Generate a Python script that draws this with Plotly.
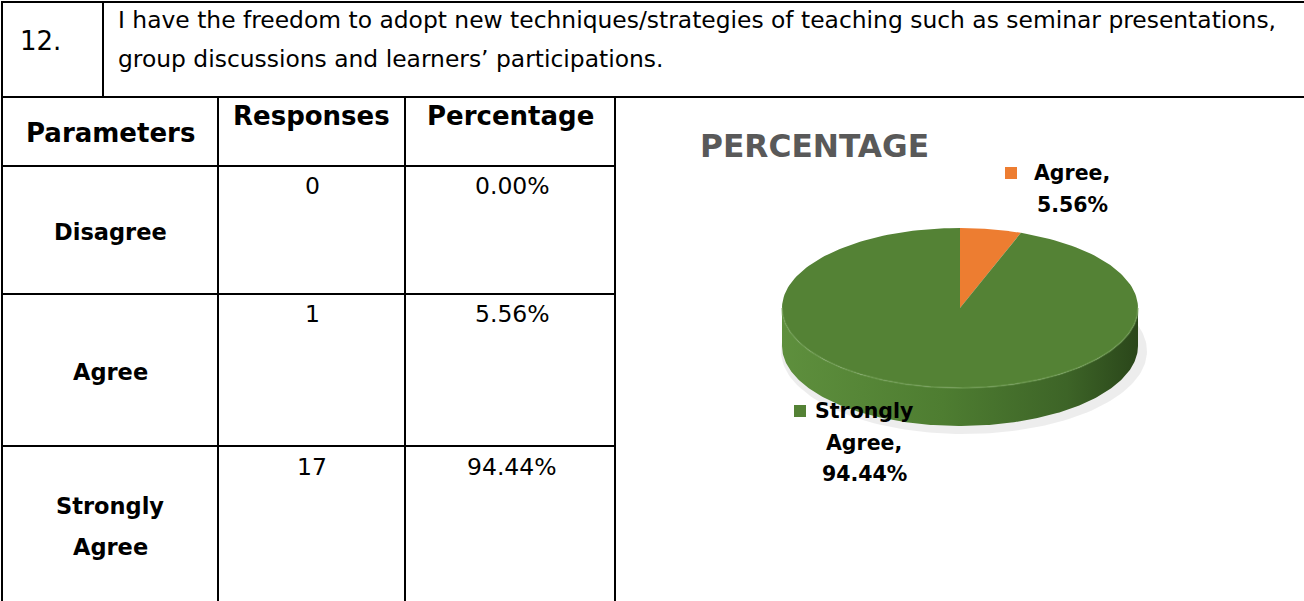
import numpy as np
import plotly.graph_objects as go

# ---------------- data ----------------
item_number = "12."
question_lines = [
    "I have the freedom to adopt new techniques/strategies of teaching such as seminar presentations,",
    "group discussions and learners\u2019 participations.",
]
headers = ["Parameters", "Responses", "Percentage"]
parameters = ["Disagree", "Agree", "Strongly Agree"]
responses = [0, 1, 17]
percentages = [0.00, 5.56, 94.44]
chart_title = "PERCENTAGE"
slice_colors = {"Disagree": "#4472C4", "Agree": "#ED7D31", "Strongly Agree": "#548235"}

# ---------------- layout geometry (pixels) ----------------
W, H = 1304, 601
LINE = "#000000"
LW = 2
x_left, x_num, x_c1, x_c2, x_c3 = 2, 103, 218, 405, 615
y_top, y_hdr, y_r1, y_r2, y_r3 = 2, 97, 166, 294, 446
row_label_y = {"Disagree": [232], "Agree": [372], "Strongly Agree": [506, 547]}
row_value_y = [186, 314, 467]

fig = go.Figure()

shapes = []
def hline(y, x0, x1):
    shapes.append(dict(type="line", xref="x", yref="y", x0=x0, x1=x1, y0=y, y1=y,
                       line=dict(color=LINE, width=LW)))
def vline(x, y0, y1):
    shapes.append(dict(type="line", xref="x", yref="y", x0=x, x1=x, y0=y0, y1=y1,
                       line=dict(color=LINE, width=LW)))

hline(y_top, x_left - 1, W)
hline(y_hdr, x_left - 1, W)
vline(x_left, y_top - 1, H)
vline(x_num, y_top, y_hdr)
for x in (x_c1, x_c2, x_c3):
    vline(x, y_hdr, H)
for y in (y_r1, y_r2, y_r3):
    hline(y, x_left, x_c3)

ann = []
REG = "DejaVu Sans"
def text(x, y, s, size, bold=False, color="#000000", xanchor="center", family=REG):
    ann.append(dict(x=x, y=y, xref="x", yref="y", text=f"<b>{s}</b>" if bold else s,
                    showarrow=False, xanchor=xanchor, yanchor="middle",
                    font=dict(family=family, size=size, color=color)))

text(40, 41, item_number, 26)
text(116, 20, question_lines[0], 23.4, xanchor="left")
text(116, 59, question_lines[1], 23.4, xanchor="left")

text((x_left + x_c1) / 2, 133, headers[0], 26, bold=True)
text((x_c1 + x_c2) / 2, 116, headers[1], 26, bold=True)
text((x_c2 + x_c3) / 2, 116, headers[2], 26, bold=True)

for i, p in enumerate(parameters):
    words = p.split(" ")
    for w, yy in zip(words, row_label_y[p]):
        text(110, yy, w, 22.5, bold=True)
    text(312, row_value_y[i], str(responses[i]), 23.5)
    text(512, row_value_y[i], f"{percentages[i]:.2f}%", 23.5)

# ---------------- 3D-looking pie drawn from the data ----------------
cx, cy, rx, ry, depth = 960, 308, 178, 80, 38
total = float(sum(responses))
fracs = [r / total for r in responses]

def arc(t0, t1, n=200):
    t = np.linspace(t0, t1, n)
    return cx + rx * np.sin(t), cy - ry * np.cos(t)

# soft shadow
ts = np.linspace(0, 2 * np.pi, 200)
fig.add_trace(go.Scatter(x=cx + 4 + (rx + 5) * np.sin(ts), y=cy + depth + 5 - (ry + 3) * np.cos(ts),
                         fill="toself", fillcolor="rgba(0,0,0,0.07)", line=dict(width=0),
                         mode="lines", hoverinfo="skip", showlegend=False))

# side band (front half) for each slice
start = 0.0
for p, f in zip(parameters, fracs):
    a0, a1 = start * 2 * np.pi, (start + f) * 2 * np.pi
    start += f
    if f <= 0:
        continue
    s0, s1 = max(a0, np.pi / 2), min(a1, 3 * np.pi / 2)
    if s1 > s0:
        xs, ys = arc(s0, s1)
        bx = np.concatenate([xs, xs[::-1], xs[:1]])
        by = np.concatenate([ys, ys[::-1] + depth, ys[:1]])
        fig.add_trace(go.Scatter(
            x=bx, y=by, mode="lines", line=dict(width=0), fill="toself",
            fillgradient=dict(type="horizontal",
                              colorscale=[[0, "#5e8f3d"], [0.45, "#4e7d31"], [0.8, "#3d6427"], [1, "#2a461a"]]),
            hoverinfo="skip", showlegend=False))

# top faces
start = 0.0
for p, f in zip(parameters, fracs):
    a0, a1 = start * 2 * np.pi, (start + f) * 2 * np.pi
    start += f
    if f <= 0:
        continue
    xs, ys = arc(a0, a1)
    fig.add_trace(go.Scatter(
        x=np.concatenate([[cx], xs, [cx]]), y=np.concatenate([[cy], ys, [cy]]),
        mode="lines", line=dict(width=0), fill="toself", fillcolor=slice_colors[p],
        name=p, hovertemplate=f"{p}: {responses[parameters.index(p)]}<extra></extra>",
        showlegend=False))

# rim highlight
xs, ys = arc(np.pi / 2, 3 * np.pi / 2)
fig.add_trace(go.Scatter(x=xs, y=ys, mode="lines", line=dict(color="rgba(120,165,90,0.45)", width=2),
                         hoverinfo="skip", showlegend=False))

# title
text(698, 146, f"<b>{chart_title}</b>", 31.3, color="#595959", xanchor="left")

# data labels with legend keys
label_pos = {"Agree": (1072, [173, 205], 1011), "Strongly Agree": (864, [411, 443, 474], 800)}
for p, pct in zip(parameters, percentages):
    if p not in label_pos:
        continue
    lx, lys, kx = label_pos[p]
    parts = (p + ",").split(" ") + [f"{pct:.2f}%"]
    for w, yy in zip(parts, lys):
        text(lx, yy, w, 20.5, bold=True)
    shapes.append(dict(type="rect", xref="x", yref="y", x0=kx - 6, x1=kx + 6, y0=lys[0] - 6, y1=lys[0] + 6,
                       fillcolor=slice_colors[p], line=dict(width=0)))

fig.update_layout(
    width=W, height=H, margin=dict(l=0, r=0, t=0, b=0),
    paper_bgcolor="white", plot_bgcolor="white",
    xaxis=dict(range=[0, W], visible=False, fixedrange=True),
    yaxis=dict(range=[H, 0], visible=False, fixedrange=True),
    shapes=shapes, annotations=ann, showlegend=False,
)
fig.write_html("out.html", config={"displayModeBar": False},
               post_script="document.body.style.margin='0';document.body.style.overflow='hidden';")
